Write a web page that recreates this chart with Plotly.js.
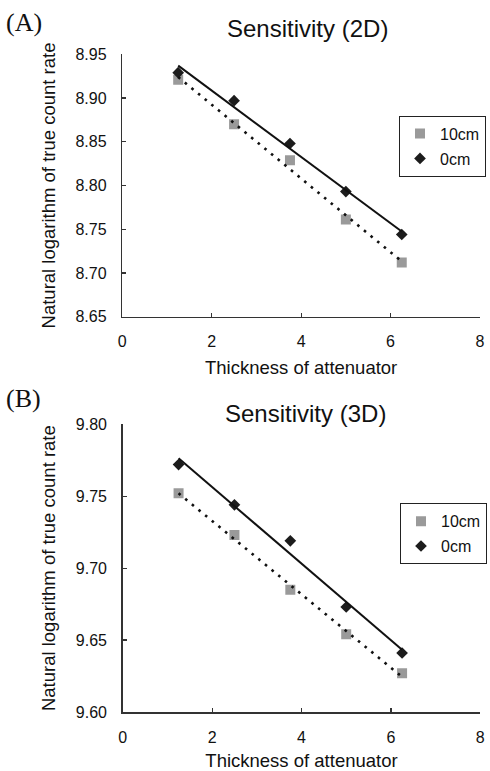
<!DOCTYPE html>
<html>
<head>
<meta charset="utf-8">
<script src="https://cdn.plot.ly/plotly-3.0.1.min.js"></script>
<style>html,body{margin:0;padding:0;background:#fff;}#chart{width:490px;height:771px;}</style>
</head>
<body>
<div id="chart"></div>
<script>
// Thickness of attenuator (x)
var thickness = [1.25, 2.5, 3.75, 5.0, 6.25];
// Panel A: Sensitivity (2D)
var a10cm = [8.921, 8.870, 8.829, 8.761, 8.712];
var a0cm  = [8.929, 8.897, 8.848, 8.793, 8.744];
// Panel B: Sensitivity (3D)
var b10cm = [9.752, 9.723, 9.685, 9.654, 9.627];
var b0cm  = [9.772, 9.744, 9.719, 9.673, 9.641];
// Tick values
var xTicks = [0, 2, 4, 6, 8];
var yTicksA = [8.65, 8.70, 8.75, 8.80, 8.85, 8.90, 8.95];
var yTicksB = [9.60, 9.65, 9.70, 9.75, 9.80];
var seriesNames = ['10cm', '0cm'];

function fit(x, y) {
  var n = x.length, mx = 0, my = 0;
  for (var i = 0; i < n; i++) { mx += x[i]; my += y[i]; }
  mx /= n; my /= n;
  var sxy = 0, sxx = 0;
  for (var i = 0; i < n; i++) { sxy += (x[i]-mx)*(y[i]-my); sxx += (x[i]-mx)*(x[i]-mx); }
  var b = sxy / sxx, a = my - b*mx;
  var xs = [x[0], x[n-1]];
  return {x: xs, y: xs.map(function(v){ return a + b*v; })};
}

var grayCol = '#9a9a9a', darkCol = '#1c1c1c';
function markers(x, y, name, sym, col, size, xa, ya, lg) {
  return {type:'scatter', mode:'markers', x:x, y:y, name:name, xaxis:xa, yaxis:ya, legend:lg,
    legendgroup: lg + name, marker:{symbol:sym, color:col, size:size}, hoverinfo:'x+y'};
}
function trend(x, y, dash, xa, ya) {
  var f = fit(x, y);
  return {type:'scatter', mode:'lines', x:f.x, y:f.y, xaxis:xa, yaxis:ya, showlegend:false,
    line:{color:'#111', width: dash === 'solid' ? 2 : 2.6, dash:dash}, hoverinfo:'skip'};
}

var data = [
  markers(thickness, a10cm, seriesNames[0], 'square', grayCol, 10, 'x', 'y', 'legend'),
  markers(thickness, a0cm, seriesNames[1], 'diamond', darkCol, 9, 'x', 'y', 'legend'),
  trend(thickness, a10cm, '2.6px,6px', 'x', 'y'),
  trend(thickness, a0cm, 'solid', 'x', 'y'),
  markers(thickness, b10cm, seriesNames[0], 'square', grayCol, 10, 'x2', 'y2', 'legend2'),
  markers(thickness, b0cm, seriesNames[1], 'diamond', darkCol, 9, 'x2', 'y2', 'legend2'),
  trend(thickness, b10cm, '2.6px,6px', 'x2', 'y2'),
  trend(thickness, b0cm, 'solid', 'x2', 'y2')
];

var W = 490, H = 771;
function px(v){ return v / W; }
function py(v){ return (H - v) / H; }

var axisFont = {family:'Liberation Sans, Arial, sans-serif', size:16, color:'#111'};
var titleFont = {family:'Liberation Sans, Arial, sans-serif', size:18.5, color:'#111'};
function xaxis(anchor, dom) {
  return {domain:dom, anchor:anchor, range:[0,8], tickmode:'array', tickvals:xTicks,
    showline:true, linecolor:'#333', linewidth:1.5, ticks:'inside', ticklen:4, tickcolor:'#333', tickwidth:1.2,
    showgrid:false, zeroline:false, tickfont:axisFont, ticklabelstandoff:10,
    title:{text:'Thickness of attenuator', font:titleFont, standoff:11}};
}
function yaxis(anchor, dom, rng, tv) {
  return {domain:dom, anchor:anchor, range:rng, tickmode:'array', tickvals:tv, tickformat:'.2f',
    showline:true, linecolor:'#333', linewidth:1.5, ticks:'inside', ticklen:4, tickcolor:'#333', tickwidth:1.2,
    showgrid:false, zeroline:false, tickfont:axisFont, ticklabelstandoff:11,
    title:{text:'Natural logarithm of true count rate', font:titleFont, standoff:15}};
}
var legFont = {family:'Liberation Sans, Arial, sans-serif', size:16, color:'#111'};
function legend(left, top) {
  return {x:px(left), y:py(top), xanchor:'left', yanchor:'top', bgcolor:'#fff', bordercolor:'#222',
    borderwidth:1, font:legFont, traceorder:'grouped', tracegroupgap:1};
}

var layout = {
  width:W, height:H, margin:{l:0, r:0, t:0, b:0}, paper_bgcolor:'#fff', plot_bgcolor:'#fff',
  showlegend:true,
  xaxis: xaxis('y', [px(122.3), px(480)]),
  yaxis: yaxis('x', [py(316.7), py(54.3)], [8.65, 8.95], yTicksA),
  xaxis2: xaxis('y2', [px(122.7), px(480.3)]),
  yaxis2: yaxis('x2', [py(712), py(424.3)], [9.60, 9.80], yTicksB),
  legend: legend(399, 115.7),
  legend2: legend(400, 503.3),
  annotations: [
    {text:'Sensitivity (2D)', xref:'paper', yref:'paper', x:px(307), y:py(28.8), xanchor:'center', yanchor:'middle',
      showarrow:false, font:{family:'Liberation Sans, Arial, sans-serif', size:24, color:'#111'}},
    {text:'Sensitivity (3D)', xref:'paper', yref:'paper', x:px(305), y:py(413.5), xanchor:'center', yanchor:'middle',
      showarrow:false, font:{family:'Liberation Sans, Arial, sans-serif', size:24, color:'#111'}},
    {text:'(A)', xref:'paper', yref:'paper', x:px(4), y:py(22), xanchor:'left', yanchor:'middle',
      showarrow:false, font:{family:'Liberation Serif, Times New Roman, serif', size:26, color:'#111'}},
    {text:'(B)', xref:'paper', yref:'paper', x:px(4), y:py(399), xanchor:'left', yanchor:'middle',
      showarrow:false, font:{family:'Liberation Serif, Times New Roman, serif', size:26, color:'#111'}}
  ]
};

Plotly.newPlot('chart', data, layout, {displayModeBar:false, staticPlot:true});
</script>
</body>
</html>
